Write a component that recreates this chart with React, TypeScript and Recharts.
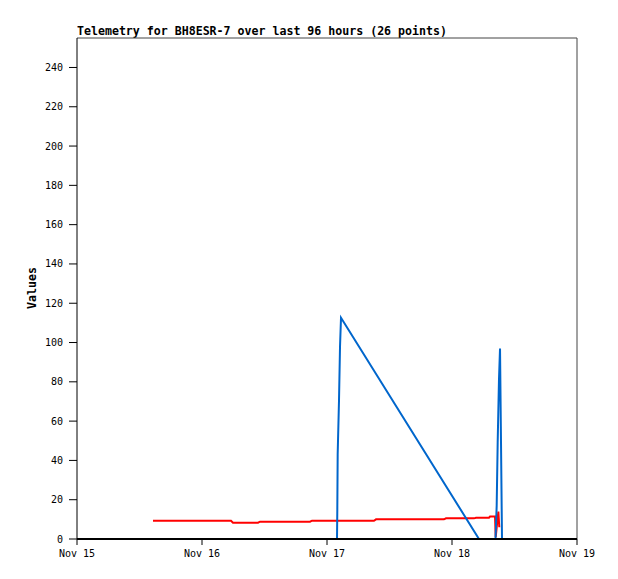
import { LineChart, Line, XAxis, YAxis, ReferenceLine } from "recharts";

// hours since Nov 15 00:00
const dayTicks = [0, 24, 48, 72, 96];
const dayLabels = ["Nov 15", "Nov 16", "Nov 17", "Nov 18", "Nov 19"];
const valueTicks = [0, 20, 40, 60, 80, 100, 120, 140, 160, 180, 200, 220, 240];

const redHours = [14.59, 29.57, 29.95, 34.75, 35.14, 44.74, 45.12, 57.02, 57.41, 70.46, 70.85, 76.22, 76.61, 79.1, 79.3, 80.26, 80.39, 80.9, 81.08];
const redValues = [9.3, 9.3, 8.3, 8.3, 8.8, 8.8, 9.3, 9.3, 10.0, 10.0, 10.5, 10.5, 10.8, 10.8, 11.4, 11.4, 1, 14, 6];

const blueHours = [14.59, 49.92, 49.98, 50.05, 50.3, 50.5, 50.69, 77.18, 80.35, 80.58, 80.77, 81.02, 81.22, 81.41, 81.6];
const blueValues = [0, 0, 15, 43, 70, 98, 112.6, 0, 0, 17, 49, 81, 97, 49, 0];

const blackHours = [14.59, 81.6];
const blackValues = [0, 0];

const zip = (t: number[], v: number[]) => t.map((h, i) => ({ t: h, v: v[i] }));
const redData = zip(redHours, redValues);
const blueData = zip(blueHours, blueValues);
const blackData = zip(blackHours, blackValues);

const FONT = "'DejaVu Sans Mono', monospace";
const tick = { fontSize: 10, fill: "#000", fontFamily: FONT };

export default function App() {
  return (
    <div style={{ position: "absolute", left: 0, top: 0, width: 618, height: 579, background: "#fff" }}>
      <LineChart width={618} height={579} margin={{ top: 38, right: 41, left: 17, bottom: 10 }}>
        <text x={77} y={35} fontFamily={FONT} fontWeight="bold" fontSize={11.6} fill="#000">
          Telemetry for BH8ESR-7 over last 96 hours (26 points)
        </text>
        <text
          x={36}
          y={288}
          transform="rotate(-90 36 288)"
          textAnchor="middle"
          fontFamily={FONT}
          fontWeight="bold"
          fontSize={11.6}
          fill="#000"
        >
          Values
        </text>
        <XAxis
          dataKey="t"
          type="number"
          domain={[0, 96]}
          ticks={dayTicks}
          tickFormatter={(v) => dayLabels[dayTicks.indexOf(v)]}
          tick={tick}
          height={30}
          tickSize={6}
          tickMargin={5}
          stroke="#000"
          axisLine={{ stroke: "#000", strokeWidth: 2 }}
          tickLine={{ stroke: "#000" }}
          allowDuplicatedCategory={false}
        />
        <YAxis
          dataKey="v"
          type="number"
          domain={[0, 255]}
          ticks={valueTicks}
          tick={tick}
          width={60}
          tickSize={8}
          tickMargin={6}
          axisLine={{ stroke: "#000" }}
          tickLine={{ stroke: "#000" }}
        />
        <ReferenceLine y={255} stroke="#444" />
        <ReferenceLine x={96} stroke="#444" />
        <Line data={redData} dataKey="v" type="linear" stroke="#ff0000" strokeWidth={2} dot={false} isAnimationActive={false} />
        <Line data={blueData} dataKey="v" type="linear" stroke="#0066cc" strokeWidth={2} dot={false} isAnimationActive={false} />
        <Line data={blackData} dataKey="v" type="linear" stroke="#000" strokeWidth={2} dot={false} isAnimationActive={false} />
      </LineChart>
    </div>
  );
}
